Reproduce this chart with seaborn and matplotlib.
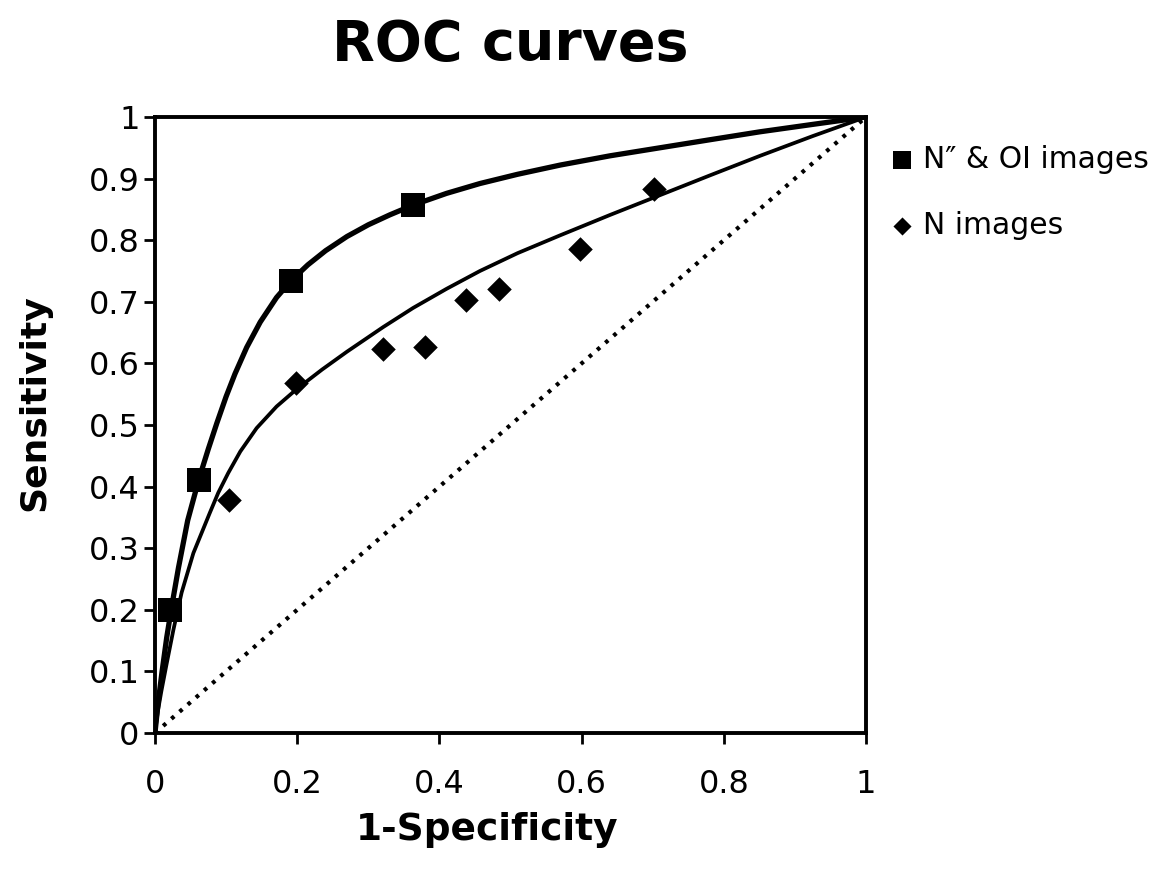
import matplotlib
matplotlib.use("Agg")
import matplotlib.pyplot as plt
import seaborn as sns
import pandas as pd

# ---- data ----
sq_fpf = [0.021, 0.062, 0.192, 0.363]
sq_tpf = [0.200, 0.411, 0.733, 0.857]

dm_fpf = [0.104, 0.199, 0.321, 0.380, 0.437, 0.484, 0.598, 0.702]
dm_tpf = [0.378, 0.568, 0.624, 0.627, 0.703, 0.720, 0.785, 0.883]

# fitted curves
up_x = [0, 0.004, 0.010, 0.0165, 0.0235, 0.033, 0.046, 0.062, 0.075, 0.087, 0.100,
        0.1125, 0.129, 0.148, 0.171, 0.192, 0.215, 0.240, 0.270, 0.300, 0.330,
        0.363, 0.410, 0.457, 0.510, 0.570, 0.640, 0.710, 0.780, 0.851, 0.925, 1.0]
up_y = [0, 0.045, 0.100, 0.155, 0.205, 0.268, 0.345, 0.413, 0.461, 0.503, 0.546,
        0.583, 0.626, 0.667, 0.707, 0.735, 0.760, 0.783, 0.806, 0.825, 0.841,
        0.857, 0.876, 0.892, 0.907, 0.922, 0.937, 0.950, 0.963, 0.976, 0.988, 1.0]

lo_x = [0, 0.004, 0.009, 0.016, 0.026, 0.0375, 0.054, 0.077, 0.089, 0.103, 0.120,
        0.143, 0.171, 0.199, 0.235, 0.270, 0.321, 0.363, 0.410, 0.457, 0.510,
        0.570, 0.640, 0.710, 0.780, 0.851, 0.925, 1.0]
lo_y = [0, 0.035, 0.068, 0.110, 0.168, 0.228, 0.292, 0.357, 0.390, 0.422, 0.457,
        0.495, 0.530, 0.558, 0.590, 0.619, 0.659, 0.690, 0.721, 0.750, 0.779,
        0.808, 0.841, 0.873, 0.905, 0.937, 0.969, 1.0]

diag = [0, 1]

xticks = [0, 0.2, 0.4, 0.6, 0.8, 1]
xticklabels = ["0", "0.2", "0.4", "0.6", "0.8", "1"]
yticks = [0, 0.1, 0.2, 0.3, 0.4, 0.5, 0.6, 0.7, 0.8, 0.9, 1]
yticklabels = ["0", "0.1", "0.2", "0.3", "0.4", "0.5", "0.6", "0.7", "0.8", "0.9", "1"]

sns.set_style("white")
plt.rcParams["font.family"] = ["DejaVu Sans"]
plt.rcParams["text.color"] = "black"
plt.rcParams["axes.labelcolor"] = "black"
plt.rcParams["xtick.color"] = "black"
plt.rcParams["ytick.color"] = "black"

fig = plt.figure(figsize=(11.67, 8.83), dpi=100)
ax = fig.add_axes([0.1328, 0.1699, 0.6093, 0.6976])

df_up = pd.DataFrame({"x": up_x, "y": up_y})
df_lo = pd.DataFrame({"x": lo_x, "y": lo_y})
df_dg = pd.DataFrame({"x": diag, "y": diag})
df_sq = pd.DataFrame({"x": sq_fpf, "y": sq_tpf})
df_dm = pd.DataFrame({"x": dm_fpf, "y": dm_tpf})

sns.lineplot(data=df_dg, x="x", y="y", ax=ax, color="black", lw=3.0,
             linestyle=(0, (0.9, 1.7)), sort=False, estimator=None, legend=False)
sns.lineplot(data=df_up, x="x", y="y", ax=ax, color="black", lw=3.8,
             sort=False, estimator=None, legend=False)
sns.lineplot(data=df_lo, x="x", y="y", ax=ax, color="black", lw=2.7,
             sort=False, estimator=None, legend=False)
sns.scatterplot(data=df_sq, x="x", y="y", ax=ax, marker="s", s=17.5**2,
                color="black", edgecolor="black", linewidth=0,
                label="N\u2033 & OI images", zorder=5)
sns.scatterplot(data=df_dm, x="x", y="y", ax=ax, marker="D", s=12.5**2,
                color="black", edgecolor="black", linewidth=0,
                label="N images", zorder=5)

ax.set_xlim(0, 1)
ax.set_ylim(0, 1)
ax.set_xticks(xticks)
ax.set_xticklabels(xticklabels)
ax.set_yticks(yticks)
ax.set_yticklabels(yticklabels)
ax.tick_params(axis="both", direction="out", length=8, width=2, color="black",
               labelsize=23, bottom=True, left=True)
ax.tick_params(axis="y", pad=3)
ax.tick_params(axis="x", pad=18)

for sp in ax.spines.values():
    sp.set_visible(True)
    sp.set_color("black")
    sp.set_linewidth(2.8)

ax.set_xlabel("1-Specificity", fontsize=27, fontweight="bold", va="center")
ax.xaxis.set_label_coords(0.467, -0.157)
ax.set_ylabel("Sensitivity", fontsize=26, fontweight="bold", va="center")
ax.yaxis.set_label_coords(-0.169, 0.536)
fig.text(0.437, 0.949, "ROC curves", fontsize=40, fontweight="bold",
         ha="center", va="center")

leg = ax.legend(loc="upper left", bbox_to_anchor=(1.03, 0.955), frameon=False,
                fontsize=21.5, handletextpad=0.2, labelspacing=1.25,
                handlelength=1.0, borderaxespad=0, borderpad=0)
hs = leg.legend_handles
hs[0].set_sizes([150])
hs[1].set_sizes([85])

fig.savefig("out.png", dpi=100, facecolor="white")
